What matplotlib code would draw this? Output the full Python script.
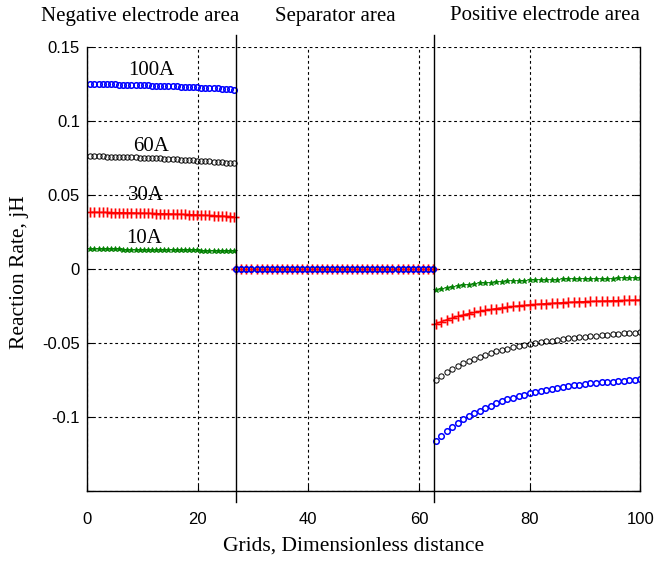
import numpy as np
import matplotlib.pyplot as plt

# reaction rate along the cell, one list per current
neg_100 = [0.1252, 0.1251, 0.1251, 0.1250, 0.1250, 0.1249, 0.1249, 0.1248, 0.1247, 0.1247,
           0.1246, 0.1245, 0.1244, 0.1243, 0.1242, 0.1241, 0.1240, 0.1239, 0.1238, 0.1237,
           0.1236, 0.1235, 0.1234, 0.1233, 0.1231, 0.1230, 0.1229, 0.1227, 0.1226, 0.1224,
           0.1223, 0.1221, 0.1219, 0.1218, 0.1216, 0.1214]
neg_60 = [0.0763, 0.0763, 0.0762, 0.0762, 0.0761, 0.0761, 0.0760, 0.0759, 0.0758, 0.0757,
          0.0756, 0.0755, 0.0754, 0.0753, 0.0752, 0.0750, 0.0749, 0.0748, 0.0746, 0.0745,
          0.0743, 0.0742, 0.0740, 0.0739, 0.0737, 0.0735, 0.0733, 0.0731, 0.0729, 0.0728,
          0.0726, 0.0724, 0.0722, 0.0720, 0.0718, 0.0716]
neg_30 = [0.0385, 0.0385, 0.0384, 0.0384, 0.0384, 0.0383, 0.0383, 0.0382, 0.0382, 0.0381,
          0.0381, 0.0380, 0.0379, 0.0379, 0.0378, 0.0377, 0.0376, 0.0375, 0.0375, 0.0374,
          0.0373, 0.0372, 0.0371, 0.0370, 0.0369, 0.0368, 0.0367, 0.0366, 0.0364, 0.0363,
          0.0362, 0.0360, 0.0359, 0.0357, 0.0356, 0.0354]
neg_10 = [0.0135, 0.0135, 0.0135, 0.0135, 0.0134, 0.0134, 0.0134, 0.0134, 0.0133, 0.0133,
          0.0133, 0.0133, 0.0132, 0.0132, 0.0132, 0.0131, 0.0131, 0.0131, 0.0130, 0.0130,
          0.0130, 0.0129, 0.0129, 0.0128, 0.0128, 0.0127, 0.0127, 0.0126, 0.0126, 0.0125,
          0.0125, 0.0124, 0.0123, 0.0123, 0.0122, 0.0121]

sep_zero = [0.0] * 40

pos_100 = [-0.1160, -0.1125, -0.1095, -0.1065, -0.1040, -0.1015, -0.0995, -0.0975, -0.0955, -0.0938,
           -0.0922, -0.0907, -0.0893, -0.0880, -0.0868, -0.0857, -0.0847, -0.0838, -0.0829, -0.0821,
           -0.0814, -0.0807, -0.0801, -0.0795, -0.0790, -0.0785, -0.0780, -0.0776, -0.0772, -0.0768,
           -0.0765, -0.0762, -0.0759, -0.0756, -0.0753, -0.0750, -0.0747, -0.0745]
pos_60 = [-0.0750, -0.0722, -0.0697, -0.0675, -0.0655, -0.0637, -0.0620, -0.0605, -0.0591, -0.0578,
          -0.0566, -0.0555, -0.0545, -0.0536, -0.0527, -0.0519, -0.0512, -0.0505, -0.0499, -0.0493,
          -0.0487, -0.0482, -0.0477, -0.0472, -0.0468, -0.0464, -0.0460, -0.0456, -0.0452, -0.0449,
          -0.0446, -0.0443, -0.0440, -0.0437, -0.0434, -0.0431, -0.0428, -0.0425]
pos_30 = [-0.0370, -0.0355, -0.0342, -0.0330, -0.0319, -0.0309, -0.0300, -0.0292, -0.0285, -0.0278,
          -0.0272, -0.0266, -0.0261, -0.0256, -0.0252, -0.0248, -0.0244, -0.0241, -0.0238, -0.0235,
          -0.0232, -0.0230, -0.0228, -0.0226, -0.0224, -0.0222, -0.0220, -0.0219, -0.0218, -0.0216,
          -0.0215, -0.0214, -0.0213, -0.0212, -0.0211, -0.0210, -0.0209, -0.0208]
pos_10 = [-0.0140, -0.0132, -0.0125, -0.0119, -0.0113, -0.0108, -0.0104, -0.0100, -0.0096, -0.0093,
          -0.0090, -0.0088, -0.0085, -0.0083, -0.0081, -0.0079, -0.0077, -0.0076, -0.0074, -0.0073,
          -0.0072, -0.0071, -0.0070, -0.0069, -0.0068, -0.0067, -0.0066, -0.0066, -0.0065, -0.0064,
          -0.0064, -0.0063, -0.0063, -0.0062, -0.0062, -0.0061, -0.0061, -0.0060]

# region boundaries (grid index)
x_neg_end = 27
x_pos_start = 62.7

x_neg = np.linspace(0.6, 26.6, len(neg_100))
x_sep = np.linspace(27, 62.5, len(sep_zero))
x_pos = np.linspace(63, 100, len(pos_100))

serif = 'Liberation Serif'
sans = 'Liberation Sans'

fig = plt.figure(figsize=(6.54, 5.62), dpi=100)
ax = fig.add_axes([0.133, 0.126, 0.846, 0.79])


def plot_series(x, y, kind):
    if kind == '100':
        ax.plot(x, y, 'o', color='blue', ms=4.0, mfc='none', mew=1.1)
    elif kind == '60':
        ax.plot(x, y, 'o', color='black', ms=3.8, mfc='none', mew=0.7)
    elif kind == '30':
        ax.plot(x, y, '+', color='#ff9090', ms=7.5, mew=2.2, alpha=0.6)
        ax.plot(x, y, '+-', color='red', ms=6.5, mew=0.9, lw=0.9)
    else:
        ax.plot(x, y, '*', color='green', ms=4.4, mew=0.6)


for xs, series in [(x_neg, [(neg_10, '10'), (neg_30, '30'), (neg_60, '60'), (neg_100, '100')]),
                   (x_sep, [(sep_zero, '10'), (sep_zero, '30'), (sep_zero, '60'), (sep_zero, '100')]),
                   (x_pos, [(pos_10, '10'), (pos_30, '30'), (pos_60, '60'), (pos_100, '100')])]:
    for ys, kind in series:
        plot_series(xs, ys, kind)

ax.set_xlim(0, 100)
ax.set_ylim(-0.15, 0.15)
ax.set_xticks([0, 20, 40, 60, 80, 100])
ax.set_yticks([-0.15, -0.1, -0.05, 0, 0.05, 0.1, 0.15])
ax.set_yticklabels(['', '-0.1', '-0.05', '0', '0.05', '0.1', '0.15'])
ax.grid(True, color='black', linestyle=(0, (2.5, 2.5)), linewidth=0.8)
ax.tick_params(direction='in', length=4, width=0.8, labelsize=12, right=True)
ax.tick_params(axis='x', pad=15)
ax.tick_params(axis='y', pad=5)
for lab in ax.get_xticklabels() + ax.get_yticklabels():
    lab.set_fontfamily(sans)
ax.spines['top'].set_visible(False)
for s in ['left', 'right', 'bottom']:
    ax.spines[s].set_linewidth(1.0)

# region separators, drawn past the axes
trans = ax.get_xaxis_transform()
for xb in [x_neg_end, x_pos_start]:
    ax.plot([xb, xb], [-0.025, 1.027], color='black', lw=1.0, transform=trans, clip_on=False)

ax.text(11.6, 0.134, '100A', family=serif, fontsize=15, ha='center', va='center')
ax.text(11.6, 0.083, '60A', family=serif, fontsize=15, ha='center', va='center')
ax.text(10.7, 0.050, '30A', family=serif, fontsize=15, ha='center', va='center')
ax.text(10.3, 0.021, '10A', family=serif, fontsize=15, ha='center', va='center')

fig.text(140 / 654, 1 - 16 / 562, 'Negative electrode area', family=serif, fontsize=15,
         ha='center', va='center')
fig.text(335 / 654, 1 - 16 / 562, 'Separator area', family=serif, fontsize=15,
         ha='center', va='center')
fig.text(545 / 654, 1 - 16 / 562, 'Positive electrode area', family=serif, fontsize=15,
         ha='center', va='center')

fig.text(354 / 654, 1 - 546 / 562, 'Grids, Dimensionless distance', family=serif,
         fontsize=15.5, ha='center', va='center')
fig.text(20 / 654, 1 - 272 / 562, 'Reaction Rate, jH', family=serif, fontsize=15.5,
         rotation=90, ha='center', va='center')

fig.savefig('out.png', dpi=100)
